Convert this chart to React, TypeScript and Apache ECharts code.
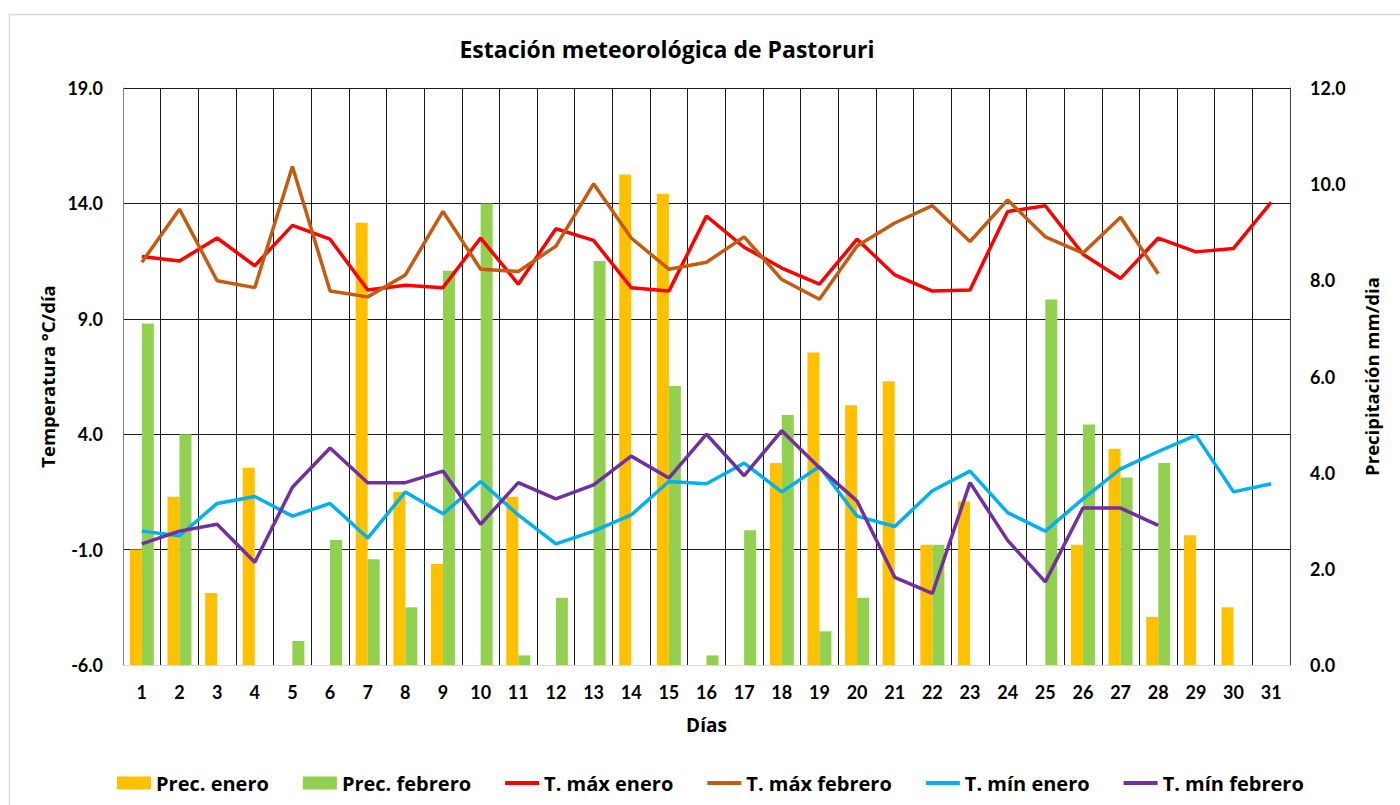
import React, { useEffect, useRef } from "react";
import * as echarts from "echarts";

const days = Array.from({ length: 31 }, (_, i) => String(i + 1));

const precEnero = [2.4, 3.5, 1.5, 4.1, 0, 0, 9.2, 3.6, 2.1, 0, 3.5, 0, 0, 10.2, 9.8, 0, 0, 4.2, 6.5, 5.4, 5.9, 2.5, 3.4, 0, 0, 2.5, 4.5, 1.0, 2.7, 1.2, 0];
const precFebrero = [7.1, 4.8, 0, 0, 0.5, 2.6, 2.2, 1.2, 8.2, 9.6, 0.2, 1.4, 8.4, 0, 5.8, 0.2, 2.8, 5.2, 0.7, 1.4, 0, 2.5, 0, 0, 7.6, 5.0, 3.9, 4.2];
const tMaxEnero = [11.7, 11.5, 12.5, 11.3, 13.05, 12.45, 10.25, 10.45, 10.35, 12.5, 10.5, 12.9, 12.4, 10.35, 10.2, 13.45, 12.1, 11.2, 10.5, 12.45, 10.9, 10.2, 10.25, 13.65, 13.9, 11.8, 10.75, 12.5, 11.9, 12.05, 14.05];
const tMaxFebrero = [11.45, 13.75, 10.65, 10.35, 15.6, 10.2, 9.95, 10.9, 13.65, 11.15, 11.05, 12.15, 14.85, 12.5, 11.15, 11.45, 12.55, 10.7, 9.85, 12.15, 13.15, 13.9, 12.35, 14.15, 12.55, 11.85, 13.4, 10.95];
const tMinEnero = [-0.2, -0.4, 1.0, 1.3, 0.45, 1.0, -0.5, 1.5, 0.55, 1.95, 0.5, -0.75, -0.2, 0.5, 1.95, 1.85, 2.75, 1.5, 2.6, 0.45, 0.0, 1.55, 2.4, 0.6, -0.2, 1.2, 2.5, 3.25, 3.95, 1.5, 1.85];
const tMinFebrero = [-0.75, -0.2, 0.1, -1.55, 1.7, 3.4, 1.9, 1.9, 2.4, 0.1, 1.9, 1.2, 1.8, 3.05, 2.1, 4.0, 2.2, 4.15, 2.55, 1.1, -2.2, -2.9, 1.9, -0.6, -2.4, 0.8, 0.8, 0.05];

const tempTicks = { min: -6, max: 19, interval: 5 };
const precTicks = { min: 0, max: 12, interval: 2 };

const FONT = "Lato";
const WIDE = "Open Sans";
const LINE_ICON = "path://M0,0H34V4H0Z";

export default function App() {
  const ref = useRef<HTMLDivElement>(null);

  useEffect(() => {
    if (!ref.current) return;
    const chart = echarts.init(ref.current, null, { renderer: "svg" });
    const txt = { fontFamily: FONT, fontWeight: "bold" as const, color: "#000" };
    const wide = { fontFamily: WIDE, fontWeight: "bold" as const, color: "#000" };
    const lineSeries = (name: string, data: number[], color: string) => ({
      name,
      type: "line",
      yAxisIndex: 0,
      data,
      symbol: "none",
      showSymbol: false,
      lineStyle: { color, width: 3.5 },
      itemStyle: { color },
      z: 3,
    });
    chart.setOption({
      animation: false,
      backgroundColor: "#fff",
      textStyle: { fontFamily: FONT },
      title: {
        text: "Estación meteorológica de Pastoruri",
        left: 662,
        textAlign: "center",
        top: 32,
        textStyle: { ...wide, fontSize: 23 },
      },
      graphic: [
        {
          type: "rect",
          shape: { x: 9.5, y: 14.5, width: 1500, height: 900 },
          style: { fill: "none", stroke: "#d9d9d9", lineWidth: 1.5 },
          silent: true,
          z: -10,
        },
      ],
      legend: {
        left: 112,
        top: 768,
        itemWidth: 34,
        itemHeight: 13,
        itemGap: 34,
        textStyle: { ...wide, fontSize: 20 },
        data: [
          { name: "Prec. enero", icon: "rect" },
          { name: "Prec. febrero", icon: "rect" },
          { name: "T. máx enero", icon: LINE_ICON },
          { name: "T. máx febrero", icon: LINE_ICON },
          { name: "T. mín enero", icon: LINE_ICON },
          { name: "T. mín febrero", icon: LINE_ICON },
        ],
      },
      grid: { left: 123, right: 110, top: 88, bottom: 140, containLabel: false },
      xAxis: {
        type: "category",
        data: days,
        boundaryGap: true,
        name: "Días",
        nameLocation: "middle",
        nameGap: 50,
        nameTextStyle: { ...wide, fontSize: 19 },
        axisLine: { show: true, onZero: false, lineStyle: { color: "#d9d9d9", width: 1 } },
        axisTick: { show: false },
        axisLabel: { ...txt, fontSize: 18, margin: 18, interval: 0 },
        splitLine: { show: true, interval: 0, lineStyle: { color: "#1a1a1a", width: 1 } },
      },
      yAxis: [
        {
          type: "value",
          ...tempTicks,
          name: "Temperatura °C/día",
          nameLocation: "middle",
          nameGap: 66,
          nameTextStyle: { ...wide, fontSize: 18.5 },
          axisLine: { show: true, lineStyle: { color: "#7f7f7f", width: 1 } },
          axisTick: { show: false },
          axisLabel: { ...txt, fontSize: 18, margin: 20, formatter: (v: number) => v.toFixed(1) },
          splitLine: { show: true, lineStyle: { color: "#1a1a1a", width: 1 } },
        },
        {
          type: "value",
          ...precTicks,
          name: "Precipitación mm/dia",
          nameLocation: "middle",
          nameGap: 72,
          nameTextStyle: { ...wide, fontSize: 18.5 },
          axisLine: { show: true, lineStyle: { color: "#404040", width: 1 } },
          axisTick: { show: false },
          axisLabel: { ...txt, fontSize: 18, margin: 20, formatter: (v: number) => v.toFixed(1) },
          splitLine: { show: false },
        },
      ],
      series: [
        {
          name: "Prec. enero",
          type: "bar",
          yAxisIndex: 1,
          data: precEnero,
          barWidth: 12,
          barGap: "0%",
          itemStyle: { color: "#FFC000" },
          z: 2,
        },
        {
          name: "Prec. febrero",
          type: "bar",
          yAxisIndex: 1,
          data: precFebrero,
          barWidth: 12,
          barGap: "0%",
          itemStyle: { color: "#92D050" },
          z: 2,
        },
        lineSeries("T. máx enero", tMaxEnero, "#FF0000"),
        lineSeries("T. máx febrero", tMaxFebrero, "#C55A11"),
        lineSeries("T. mín enero", tMinEnero, "#00B0F0"),
        lineSeries("T. mín febrero", tMinFebrero, "#7030A0"),
      ],
    });
    return () => chart.dispose();
  }, []);

  return (
    <div
      ref={ref}
      style={{ position: "fixed", left: 0, top: 0, width: 1400, height: 805, background: "#fff" }}
    />
  );
}
